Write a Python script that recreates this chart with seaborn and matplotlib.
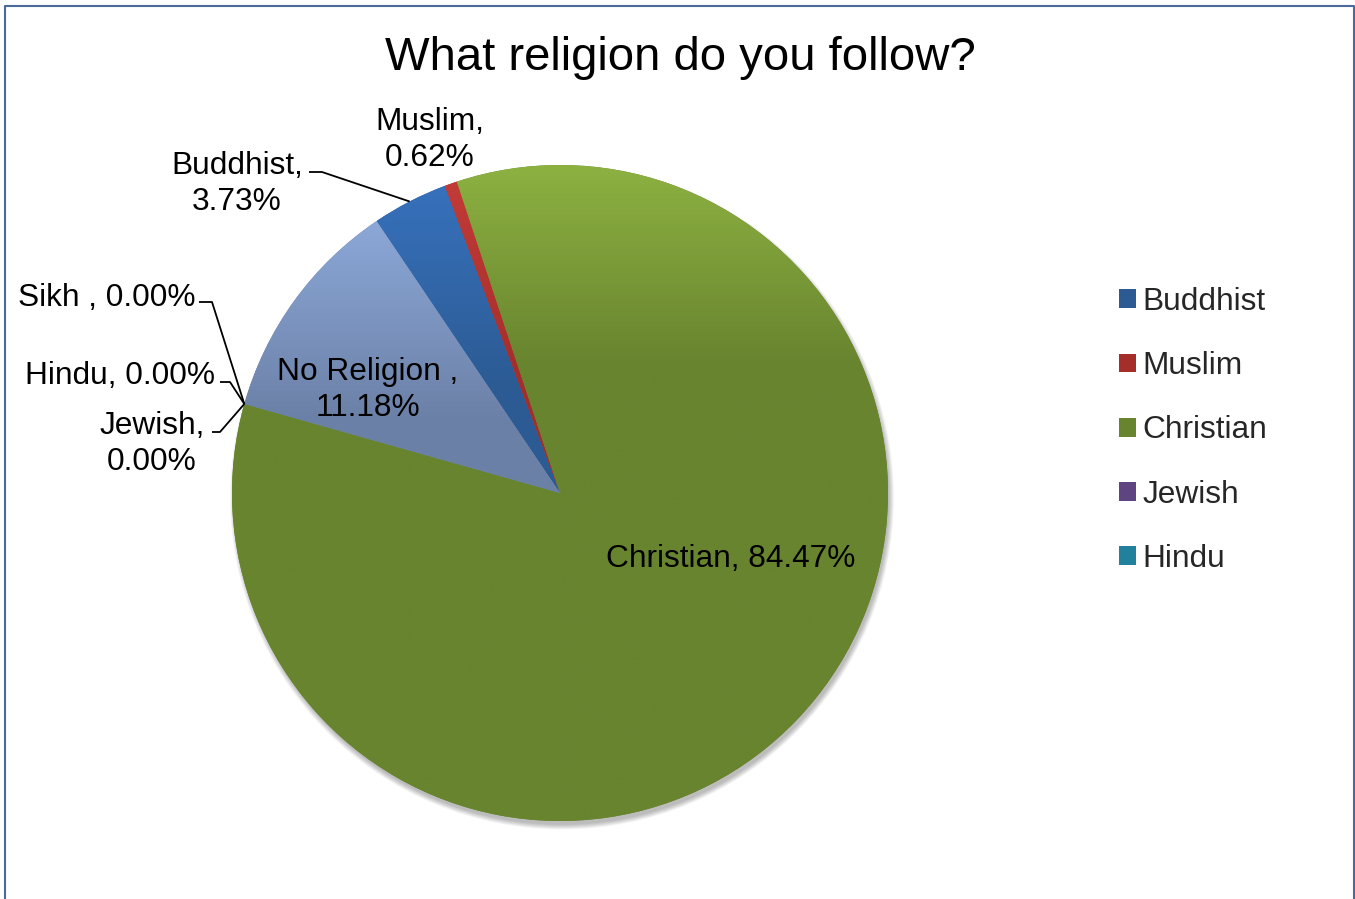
import numpy as np
import matplotlib
matplotlib.use("Agg")
import matplotlib.pyplot as plt
import seaborn as sns
from matplotlib.colors import to_rgb
from matplotlib.patches import Circle
from matplotlib.lines import Line2D

# Survey answers (percent of respondents)
religions = ["Buddhist", "Muslim", "Christian", "Jewish", "Hindu", "Sikh", "No Religion"]
shares = [3.73, 0.62, 84.47, 0.00, 0.00, 0.00, 11.18]
label_names = ["Buddhist,", "Muslim,", "Christian,", "Jewish,", "Hindu,", "Sikh ,", "No Religion ,"]
legend_count = 5

# light (top) and deep (lower) shade of each slice fill
top_colors = ["#3771BC", "#C23B37", "#8DB141", "#7C5CA6", "#31A8C7", "#F79646", "#8CA8D8"]
base_colors = ["#2C5B94", "#A52D2A", "#68842F", "#5E4480", "#21809B", "#C8701F", "#6B80A6"]

sns.set_theme(style="white")
plt.rcParams["font.family"] = ["Liberation Sans", "DejaVu Sans"]

W, H = 1355, 899
fig = plt.figure(figsize=(W / 100, H / 100), dpi=100)
ax = fig.add_axes([0, 0, 1, 1])

cx, cy, R = 560, H - 493, 328

# soft drop shadow under the pie, falling down and to the right
for k in range(8):
    ax.add_patch(Circle((cx + 2, cy - 4.5), R + 4 - k * 0.7, facecolor="#000000",
                        edgecolor="none", alpha=0.035, zorder=0))

wedges, _ = ax.pie(shares, colors=base_colors, startangle=124, counterclock=False,
                   center=(cx, cy), radius=R, normalize=True,
                   wedgeprops=dict(linewidth=0, zorder=1))

# vertical gradient inside each slice
for w, c0, c1 in zip(wedges, top_colors, base_colors):
    if w.theta2 - w.theta1 <= 0:
        continue
    ext = w.get_path().get_extents()
    top, bottom = ext.y1, ext.y0
    ys = np.linspace(top, bottom, 300)
    t = np.clip((top - ys) / 200.0, 0, 1)
    cols = (1 - t)[:, None] * np.array(to_rgb(c0)) + t[:, None] * np.array(to_rgb(c1))
    im = ax.imshow(cols[:, None, :], extent=[ext.x0, ext.x1, bottom, top], origin="upper",
                   aspect="auto", interpolation="bilinear", zorder=1.5)
    im.set_clip_path(w)


def rim(theta_deg):
    a = np.deg2rad(theta_deg)
    return cx + R * np.cos(a), cy + R * np.sin(a)


def one_line(i):
    return f"{label_names[i]} {shares[i]:.2f}%"


def two_lines(i):
    return f"{label_names[i]}\n{shares[i]:.2f}%"


fs = 22.8
txt = dict(fontsize=fs, color="black", ha="center", va="center", linespacing=1.3, zorder=5)

idx = {name: i for i, name in enumerate(religions)}

# data labels
ax.text(430, H - 140, two_lines(idx["Muslim"]), **txt)
ax.text(237, H - 184, two_lines(idx["Buddhist"]), **txt)
ax.text(107, H - 298, one_line(idx["Sikh"]), **txt)
ax.text(120, H - 376, one_line(idx["Hindu"]), **txt)
ax.text(152, H - 444, two_lines(idx["Jewish"]), **txt)
ax.text(368, H - 390, two_lines(idx["No Religion"]), **txt)
ax.text(731, H - 559, one_line(idx["Christian"]), **txt)

# leader lines
line_kw = dict(color="black", lw=1.3, zorder=4, solid_capstyle="butt")
wb = wedges[idx["Buddhist"]]
px, py = rim((wb.theta1 + wb.theta2) / 2)
ax.plot([309, 322, px], [H - 172, H - 172, py], **line_kw)
for name, (x0, x1, yy) in {"Sikh": (199, 212, 302), "Hindu": (220, 230, 382),
                           "Jewish": (212, 220, 432)}.items():
    wz = wedges[idx[name]]
    px, py = rim(wz.theta1)
    ax.plot([x0, x1, px], [H - yy, H - yy, py], **line_kw)

ax.set_xlim(0, W)
ax.set_ylim(0, H)
ax.set_aspect("equal")
ax.axis("off")

ax.legend(wedges[:legend_count], religions[:legend_count], loc="upper left",
          bbox_to_anchor=(1119 / W, 1 - 287 / H), bbox_transform=fig.transFigure,
          frameon=False, fontsize=fs, handlelength=0.54, handleheight=0.54,
          handletextpad=0.2, labelspacing=1.08, borderpad=0, borderaxespad=0)

fig.text(680 / W, 1 - 58 / H, "What religion do you follow?", ha="center", va="center",
         fontsize=34, color="black")

# chart frame
fig.add_artist(Line2D([5.5 / W, 5.5 / W, 1353.5 / W, 1353.5 / W], [0, 1 - 5.5 / H, 1 - 5.5 / H, 0],
                      transform=fig.transFigure, color="#4A6A9C", lw=1.5))

fig.savefig("out.png", dpi=100)
